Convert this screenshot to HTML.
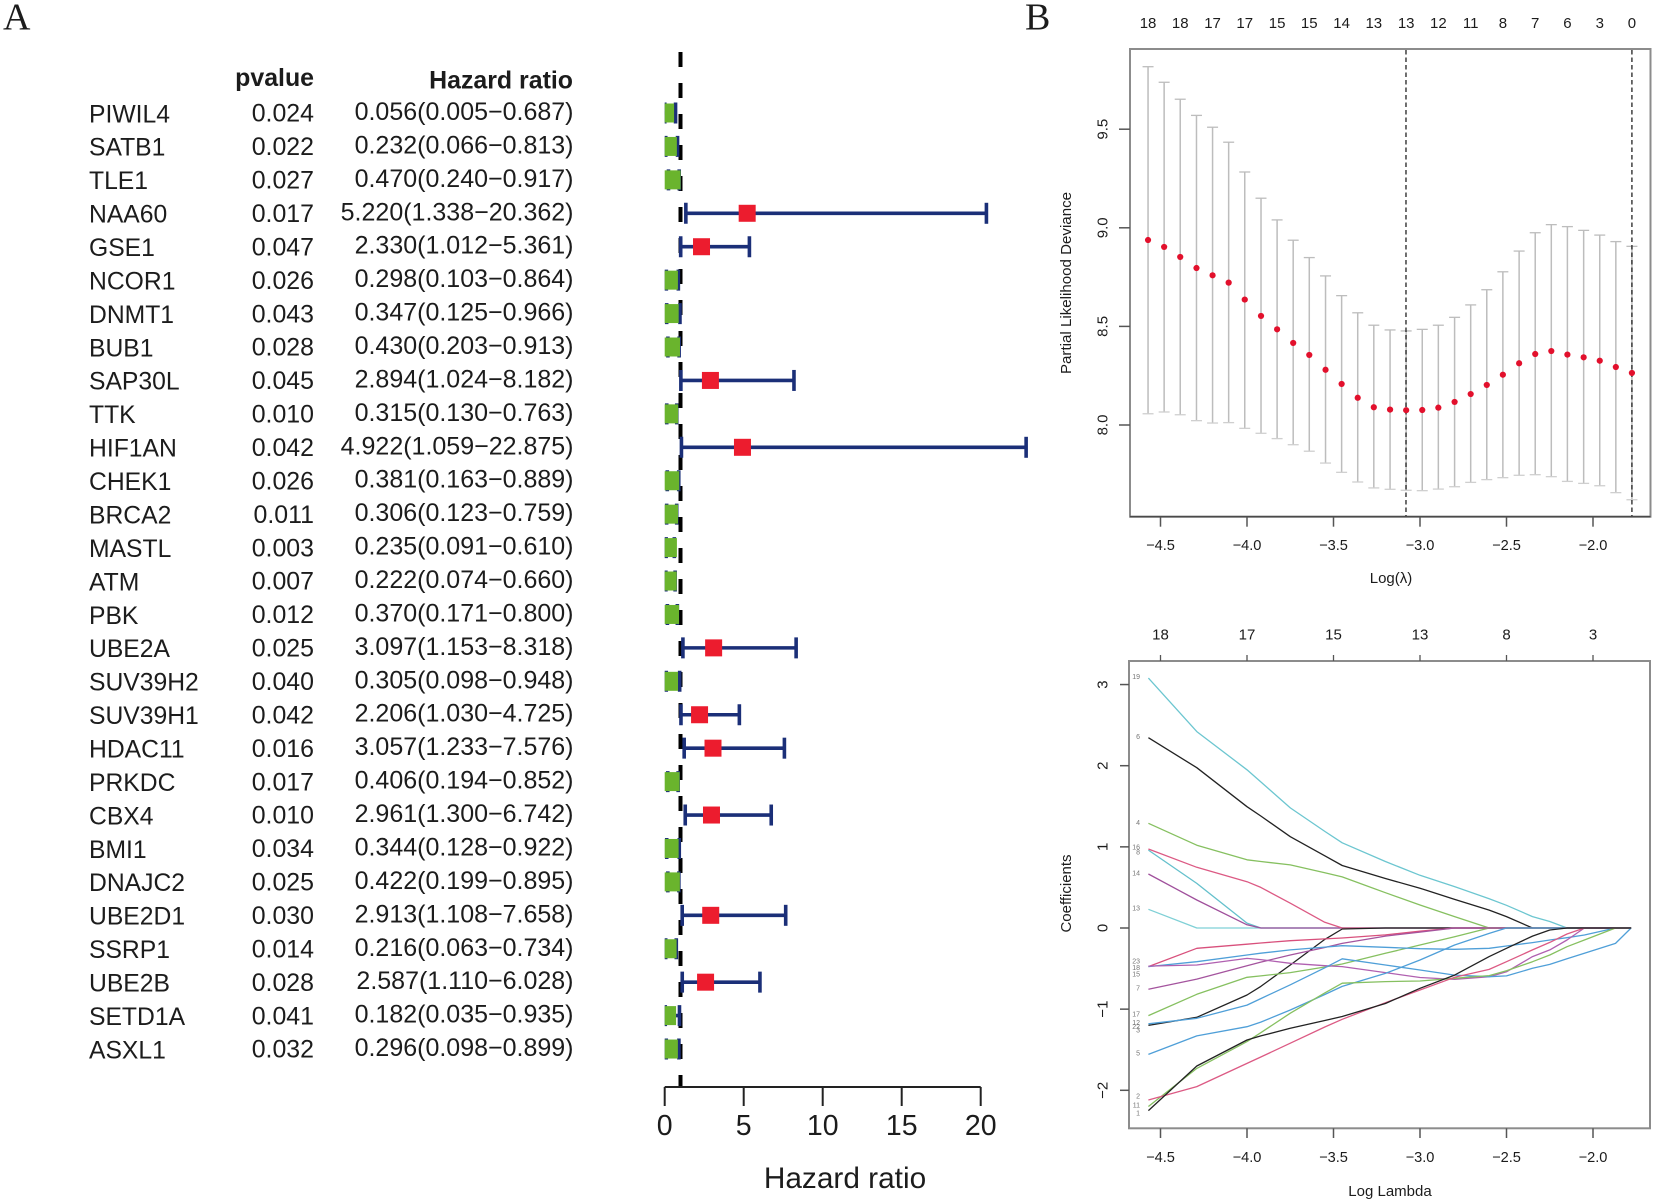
<!DOCTYPE html>
<html lang="en">
<head>
<meta charset="utf-8">
<title>Forest plot and LASSO Cox regression</title>
<style>
html,body{margin:0;padding:0;background:#fff;}
#figure{display:block;width:1654px;height:1203px;}
text{font-family:"Liberation Sans",sans-serif;fill:#1c1c1c;}
</style>
</head>
<body>
<svg id="figure" xmlns="http://www.w3.org/2000/svg" width="1654" height="1203" viewBox="0 0 1654 1203">
  <defs><clipPath id="forest-clip"><rect x="664.7" y="40" width="500" height="1060"/></clipPath></defs>
  <rect x="0" y="0" width="1654" height="1203" fill="#fff"/>
  <text x="3" y="29.5" style="font-family:'Liberation Serif',serif;font-size:38px">A</text>
  <text x="1025" y="29.5" style="font-family:'Liberation Serif',serif;font-size:38px">B</text>

  <g id="forest">
    <text x="314" y="86" text-anchor="end" font-weight="bold" font-size="24.9">pvalue</text>
    <text x="573" y="88.5" text-anchor="end" font-weight="bold" font-size="24.9">Hazard ratio</text>
    <text x="845" y="1188" text-anchor="middle" font-size="29.8">Hazard ratio</text>
  </g>

  <g id="cv">
    <rect x="1130" y="49" width="520.5" height="467.7" fill="none" stroke="#8c8c8c" stroke-width="2"/>
    <line x1="1130" y1="516.7" x2="1650.5" y2="516.7" stroke="#4a4a4a" stroke-width="1.6"/>
    <text x="1391" y="583" text-anchor="middle" font-size="15">Log(λ)</text>
    <text transform="translate(1071 283) rotate(-90)" text-anchor="middle" font-size="15.1">Partial Likelihood Deviance</text>
  </g>

  <g id="coef">
    <rect x="1129" y="661" width="521" height="467.3" fill="none" stroke="#8c8c8c" stroke-width="2"/>
    <text x="1390" y="1196" text-anchor="middle" font-size="15">Log Lambda</text>
    <text transform="translate(1071 893.5) rotate(-90)" text-anchor="middle" font-size="15">Coefficients</text>
  </g>
</svg>

<script>
/* ---------- Panel A: forest plot data ---------- */
var genes = ["PIWIL4","SATB1","TLE1","NAA60","GSE1","NCOR1","DNMT1","BUB1","SAP30L","TTK","HIF1AN","CHEK1","BRCA2","MASTL","ATM","PBK","UBE2A","SUV39H2","SUV39H1","HDAC11","PRKDC","CBX4","BMI1","DNAJC2","UBE2D1","SSRP1","UBE2B","SETD1A","ASXL1"];
var pvalues = ["0.024","0.022","0.027","0.017","0.047","0.026","0.043","0.028","0.045","0.010","0.042","0.026","0.011","0.003","0.007","0.012","0.025","0.040","0.042","0.016","0.017","0.010","0.034","0.025","0.030","0.014","0.028","0.041","0.032"];
var hazardRatios = [0.056,0.232,0.470,5.220,2.330,0.298,0.347,0.430,2.894,0.315,4.922,0.381,0.306,0.235,0.222,0.370,3.097,0.305,2.206,3.057,0.406,2.961,0.344,0.422,2.913,0.216,2.587,0.182,0.296];
var hrLow = [0.005,0.066,0.240,1.338,1.012,0.103,0.125,0.203,1.024,0.130,1.059,0.163,0.123,0.091,0.074,0.171,1.153,0.098,1.030,1.233,0.194,1.300,0.128,0.199,1.108,0.063,1.110,0.035,0.098];
var hrHigh = [0.687,0.813,0.917,20.362,5.361,0.864,0.966,0.913,8.182,0.763,22.875,0.889,0.759,0.610,0.660,0.800,8.318,0.948,4.725,7.576,0.852,6.742,0.922,0.895,7.658,0.734,6.028,0.935,0.899];
var forestTicks = [0,5,10,15,20];
var referenceHR = [1];

/* ---------- Panel B top: cross-validation data ---------- */
var cvLogLambda = [-4.572,-4.479,-4.386,-4.292,-4.199,-4.106,-4.013,-3.919,-3.826,-3.733,-3.640,-3.546,-3.453,-3.360,-3.267,-3.173,-3.080,-2.987,-2.894,-2.800,-2.707,-2.614,-2.521,-2.427,-2.334,-2.241,-2.148,-2.054,-1.961,-1.868,-1.775];
var cvMean = [8.938,8.903,8.852,8.796,8.759,8.722,8.636,8.553,8.485,8.416,8.355,8.280,8.208,8.138,8.090,8.078,8.075,8.076,8.088,8.117,8.157,8.203,8.255,8.313,8.360,8.375,8.357,8.343,8.326,8.294,8.264];
var cvUpper = [9.817,9.738,9.652,9.570,9.510,9.434,9.283,9.150,9.040,8.937,8.849,8.756,8.656,8.569,8.506,8.482,8.477,8.485,8.506,8.546,8.609,8.686,8.777,8.882,8.975,9.016,9.006,8.987,8.963,8.930,8.906];
var cvLower = [8.057,8.066,8.052,8.022,8.010,8.012,7.983,7.958,7.931,7.900,7.867,7.807,7.760,7.711,7.681,7.674,7.669,7.667,7.675,7.687,7.709,7.723,7.733,7.745,7.748,7.738,7.714,7.704,7.692,7.657,7.621];
var cvTopCounts = [18,18,17,17,15,15,14,13,13,12,11,8,7,6,3,0];
var cvXTicks = [-4.5,-4.0,-3.5,-3.0,-2.5,-2.0];
var cvYTicks = [8.0,8.5,9.0,9.5];
var cvLambdaLines = [-3.081,-1.775];

/* ---------- Panel B bottom: coefficient path data ---------- */
var pathLogLambda = [-4.57,-4.29,-4.0,-3.92,-3.75,-3.55,-3.45,-3.2,-3.0,-2.8,-2.6,-2.5,-2.35,-2.25,-2.15,-2.05,-1.87,-1.78];
var pathCyanTop = [3.08,2.42,1.95,1.80,1.48,1.19,1.05,0.82,0.65,0.51,0.36,0.28,0.14,0.08,0,0,0,0];
var pathBlackTop = [2.345,1.975,1.495,1.38,1.125,0.89,0.77,0.61,0.49,0.353,0.22,0.14,0,0,0,0,0,0];
var pathGreenTop = [1.29,1.02,0.84,0.82,0.777,0.68,0.63,0.435,0.283,0.14,0,0,0,0,0,0,0,0];
var pathCrimsonTop = [0.973,0.748,0.57,0.50,0.305,0.07,0,0,0,0,0,0,0,0,0,0,0,0];
var pathCyanMid = [0.96,0.55,0.06,0,0,0,0,0,0,0,0,0,0,0,0,0,0,0];
var pathPurpleTop = [0.665,0.345,0.04,0,0,0,0,0,0,0,0,0,0,0,0,0,0,0];
var pathCyanLow = [0.23,0,0,0,0,0,0,0,0,0,0,0,0,0,0,0,0,0];
var pathCrimsonNear = [-0.476,-0.25,-0.20,-0.185,-0.156,-0.134,-0.123,-0.085,-0.04,0,0,0,0,0,0,0,0,0];
var pathMauve = [-0.47,-0.456,-0.375,-0.39,-0.435,-0.465,-0.476,-0.55,-0.61,-0.633,-0.60,-0.54,-0.353,-0.27,-0.148,0,0,0];
var pathPurpleSeven = [-0.756,-0.63,-0.464,-0.42,-0.333,-0.24,-0.19,-0.10,-0.05,0,0,0,0,0,0,0,0,0];
var pathBlueNear = [-0.476,-0.415,-0.333,-0.31,-0.27,-0.235,-0.218,-0.238,-0.255,-0.263,-0.25,-0.222,-0.18,-0.148,-0.12,-0.086,0,0];
var pathGreenMid = [-1.08,-0.817,-0.608,-0.59,-0.55,-0.48,-0.444,-0.312,-0.21,-0.107,0,0,0,0,0,0,0,0];
var pathBlackMid = [-1.2,-1.10,-0.826,-0.72,-0.456,-0.14,-0.012,0,0,0,0,0,0,0,0,0,0,0];
var pathBlueMid = [-1.18,-1.113,-0.95,-0.87,-0.70,-0.49,-0.38,-0.456,-0.518,-0.58,-0.60,-0.59,-0.497,-0.448,-0.38,-0.312,-0.19,0];
var pathBlueFive = [-1.557,-1.33,-1.216,-1.16,-1.01,-0.82,-0.72,-0.56,-0.394,-0.21,-0.066,0,0,0,0,0,0,0];
var pathGreenLow = [-2.2,-1.73,-1.40,-1.29,-1.05,-0.80,-0.68,-0.66,-0.653,-0.62,-0.587,-0.526,-0.415,-0.333,-0.23,-0.148,0,0];
var pathBlackLow = [-2.25,-1.70,-1.38,-1.33,-1.236,-1.14,-1.09,-0.93,-0.743,-0.58,-0.353,-0.25,-0.10,-0.025,0,0,0,0];
var pathCrimsonLow = [-2.12,-1.955,-1.668,-1.59,-1.42,-1.22,-1.125,-0.92,-0.764,-0.608,-0.51,-0.415,-0.27,-0.177,-0.074,0,0,0];
var pathSeries = [pathCyanLow,pathCyanMid,pathPurpleTop,pathCrimsonTop,pathBlackMid,pathGreenMid,pathBlackTop,pathCyanTop,pathGreenTop,pathCrimsonNear,pathPurpleSeven,pathBlueNear,pathMauve,pathBlueFive,pathBlueMid,pathGreenLow,pathCrimsonLow,pathBlackLow];
var pathNames = ["cyan-low","cyan-mid","purple-top","crimson-top","black-mid","green-mid","black-top","cyan-top","green-top","crimson-near","purple-seven","blue-near","mauve","blue-five","blue-mid","green-low","crimson-low","black-low"];
var pathColors = ["#7fd0d6","#64c0cc","#a0509c","#dc5a84","#222222","#86c060","#222222","#6cc6d0","#86c060","#d8507c","#a4549e","#4f9fd8","#b060b0","#4f9fd8","#4f9fd8","#86c060","#dc5a84","#222222"];
var coefXTicks = [-4.5,-4.0,-3.5,-3.0,-2.5,-2.0];
var coefTopCounts = [18,17,15,13,8,3];
var coefYTicks = [-2,-1,0,1,2,3];
var startLabels = ["19","6","4","16","8","14","13","23","18","15","7","17","12","22","3","5","2","11","1"];
var startLabelValues = [3.097,2.36,1.30,1.0,0.937,0.678,0.246,-0.407,-0.489,-0.567,-0.74,-1.06,-1.167,-1.216,-1.257,-1.54,-2.07,-2.18,-2.28];

/* ---------- helpers ---------- */
var SVGNS = 'http://www.w3.org/2000/svg';
function svgEl(parent, tag, attrs, txt) {
  var e = document.createElementNS(SVGNS, tag);
  for (var k in attrs) { e.setAttribute(k, attrs[k]); }
  if (txt !== undefined) { e.textContent = txt; }
  parent.appendChild(e);
  return e;
}
function minusText(v, digits) {
  return (v < 0 ? '\u2212' : '') + Math.abs(v).toFixed(digits);
}

/* axis functions */
function forestX(v) { return 664.7 + v * 15.8; }
function forestY(i) { return 113 + i * 33.43; }
function cvX(v) { return 1593 + (v + 2) * 173; }
function cvY(v) { return 425 - (v - 8) * 197.2; }
function coefX(v) { return 1593 + (v + 2) * 173; }
function coefY(v) { return 928 - v * 81.15; }

/* ---------- draw panel A ---------- */
var forest = document.getElementById('forest');
var refLine = svgEl(forest, 'line', {x1: forestX(referenceHR[0]), x2: forestX(referenceHR[0]), y1: 52, y2: 1087, stroke: '#000', 'stroke-width': 4, 'stroke-dasharray': '15 16'});



genes.forEach(function (g, i) {
  var cy = forestY(i);
  var t1 = svgEl(forest, 'text', {x: 89, y: cy + 9.3, 'font-size': 24.7}, g);
  
  
  var t2 = svgEl(forest, 'text', {x: 314, y: cy + 8.7, 'text-anchor': 'end', 'font-size': 24.9}, pvalues[i]);
  
  
  var label = hazardRatios[i].toFixed(3) + '(' + hrLow[i].toFixed(3) + '\u2212' + hrHigh[i].toFixed(3) + ')';
  var t3 = svgEl(forest, 'text', {x: 573.5, y: cy + 7, 'text-anchor': 'end', 'font-size': 25}, label);
  
  

  var g1 = svgEl(forest, 'g', {'clip-path': 'url(#forest-clip)'});
  
  
  var lo = forestX(hrLow[i]), hi = forestX(hrHigh[i]);
  var whisk = svgEl(g1, 'line', {x1: lo, x2: hi, y1: cy, y2: cy, stroke: '#1b2f78', 'stroke-width': 3.6});
  
  
  var capL = svgEl(g1, 'line', {x1: lo, x2: lo, y1: cy - 10.5, y2: cy + 10.5, stroke: '#1b2f78', 'stroke-width': 3.6});
  
  
  var capH = svgEl(g1, 'line', {x1: hi, x2: hi, y1: cy - 10.5, y2: cy + 10.5, stroke: '#1b2f78', 'stroke-width': 3.6});
  
  
  var risky = hazardRatios[i] > 1;
  var h = risky ? 17 : 19;
  var mark = svgEl(g1, 'rect', {x: forestX(hazardRatios[i]) - 8.5, y: cy - h / 2, width: 17, height: h, fill: risky ? '#ec1c2e' : '#6ab42d'});
  
  
});

var fAxis = svgEl(forest, 'line', {x1: forestX(0), x2: forestX(20), y1: 1087, y2: 1087, stroke: '#222', 'stroke-width': 2});


forestTicks.forEach(function (v) {
  var tk = svgEl(forest, 'line', {x1: forestX(v), x2: forestX(v), y1: 1087, y2: 1106, stroke: '#222', 'stroke-width': 2});
  
  
  var tl = svgEl(forest, 'text', {x: forestX(v), y: 1135, 'text-anchor': 'middle', 'font-size': 28.5}, String(v));
  
  
});

/* ---------- draw panel B top ---------- */
var cv = document.getElementById('cv');
cvLogLambda.forEach(function (x, i) {
  var px = cvX(x);
  var w = svgEl(cv, 'line', {x1: px, x2: px, y1: cvY(cvLower[i]), y2: cvY(cvUpper[i]), stroke: '#bdbdbd', 'stroke-width': 1.5});
  
  
  var c1 = svgEl(cv, 'line', {x1: px - 5.5, x2: px + 5.5, y1: cvY(cvUpper[i]), y2: cvY(cvUpper[i]), stroke: '#bdbdbd', 'stroke-width': 1.3});
  
  
  var c2 = svgEl(cv, 'line', {x1: px - 5.5, x2: px + 5.5, y1: cvY(cvLower[i]), y2: cvY(cvLower[i]), stroke: '#cfcfcf', 'stroke-width': 1.3});
  
  
});
cvLambdaLines.forEach(function (x) {
  var d = svgEl(cv, 'line', {x1: cvX(x), x2: cvX(x), y1: 50, y2: 516, stroke: '#222', 'stroke-width': 1.3, 'stroke-dasharray': '4.5 3'});
  
  
});
cvLogLambda.forEach(function (x, i) {
  var dot = svgEl(cv, 'circle', {cx: cvX(x), cy: cvY(cvMean[i]), r: 3.1, fill: '#e2102c'});
  
  
});
cvTopCounts.forEach(function (n, i) {
  var t = svgEl(cv, 'text', {x: cvX(cvLogLambda[i * 2]), y: 28, 'text-anchor': 'middle', 'font-size': 15}, String(n));
  
  
});
cvXTicks.forEach(function (v) {
  var tk = svgEl(cv, 'line', {x1: cvX(v), x2: cvX(v), y1: 516.7, y2: 526.7, stroke: '#555', 'stroke-width': 1.5});
  
  
  var t = svgEl(cv, 'text', {x: cvX(v), y: 550, 'text-anchor': 'middle', 'font-size': 14.6}, minusText(v, 1));
  
  
});
cvYTicks.forEach(function (v) {
  var tk = svgEl(cv, 'line', {x1: 1119, x2: 1130, y1: cvY(v), y2: cvY(v), stroke: '#555', 'stroke-width': 1.5});
  
  
  var t = svgEl(cv, 'text', {transform: 'translate(1107.5 ' + cvY(v) + ') rotate(-90)', 'text-anchor': 'middle', 'font-size': 15}, v.toFixed(1));
  
  
});

/* ---------- draw panel B bottom ---------- */
var coef = document.getElementById('coef');
pathSeries.forEach(function (vals, s) {
  var pts = vals.map(function (v, i) { return coefX(pathLogLambda[i]).toFixed(1) + ',' + coefY(v).toFixed(1); }).join(' ');
  var pl = svgEl(coef, 'polyline', {points: pts, fill: 'none', stroke: pathColors[s], 'stroke-width': 1.3, 'stroke-linejoin': 'round'});
  
  
});
startLabels.forEach(function (lab, i) {
  var t = svgEl(coef, 'text', {x: 1140, y: coefY(startLabelValues[i]) + 2.5, 'text-anchor': 'end', 'font-size': 7, style: 'fill:#777'}, lab);
  
  
});
coefXTicks.forEach(function (v, i) {
  var tk = svgEl(coef, 'line', {x1: coefX(v), x2: coefX(v), y1: 1128.3, y2: 1138, stroke: '#555', 'stroke-width': 1.5});
  
  
  var t = svgEl(coef, 'text', {x: coefX(v), y: 1162, 'text-anchor': 'middle', 'font-size': 14.6}, minusText(v, 1));
  
  
  var tt = svgEl(coef, 'line', {x1: coefX(v), x2: coefX(v), y1: 655, y2: 661, stroke: '#555', 'stroke-width': 1.3});
  
  
  var tl = svgEl(coef, 'text', {x: coefX(v), y: 639.5, 'text-anchor': 'middle', 'font-size': 15}, String(coefTopCounts[i]));
  
  
});
coefYTicks.forEach(function (v) {
  var tk = svgEl(coef, 'line', {x1: 1120, x2: 1129, y1: coefY(v), y2: coefY(v), stroke: '#555', 'stroke-width': 1.5});
  
  
  var t = svgEl(coef, 'text', {transform: 'translate(1107.5 ' + coefY(v) + ') rotate(-90)', 'text-anchor': 'middle', 'font-size': 15}, minusText(v, 0));
  
  
});
</script>
</body>
</html>
